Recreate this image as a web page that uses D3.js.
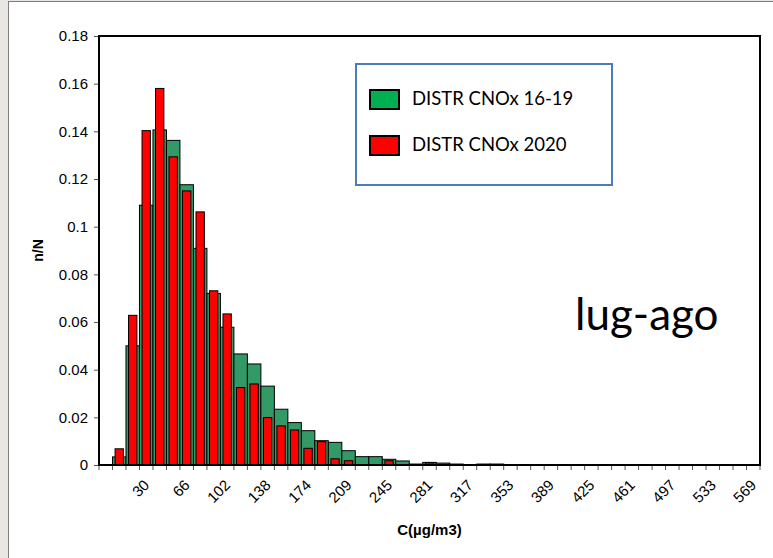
<!DOCTYPE html>
<html>
<head>
<meta charset="utf-8">
<script src="https://cdn.jsdelivr.net/npm/d3@7/dist/d3.min.js"></script>
<style>
  html, body { margin: 0; padding: 0; background: #e9e7e4; }
  svg { display: block; }
</style>
</head>
<body>
<svg id="chart" width="773" height="558"></svg>
<script>
// Distribuzione n/N delle concentrazioni CNOx, luglio-agosto:
// 2016-19 (verde) contro 2020 (rosso), classi da ~12 µg/m3.

const distr1619 = [
  0, 0.0034, 0.050, 0.109, 0.1406, 0.1362, 0.1176, 0.0909, 0.0720, 0.0578,
  0.0466, 0.0424, 0.0331, 0.0234, 0.0178, 0.0144, 0.0102, 0.0095, 0.0060, 0.0035,
  0.0035, 0.0024, 0.0017, 0.0004, 0.0011, 0.0008, 0.0004, 0.0002, 0.0004, 0.0004,
  0.0002, 0, 0, 0, 0, 0, 0, 0, 0, 0,
  0, 0, 0, 0, 0, 0, 0, 0, 0
];
const distr2020 = [
  0, 0.0068, 0.0628, 0.1403, 0.1580, 0.1293, 0.1150, 0.1062, 0.0731, 0.0634,
  0.0325, 0.0340, 0.0199, 0.0164, 0.0147, 0.0070, 0.0098, 0.0026, 0.0018, 0,
  0, 0.0018, 0, 0, 0.0009, 0, 0, 0, 0, 0,
  0, 0, 0, 0, 0, 0, 0, 0, 0, 0,
  0, 0, 0, 0, 0, 0, 0, 0, 0
];
// etichette mostrate una classe ogni tre (dalla quarta)
const etichetteX = ['30', '66', '102', '138', '174', '209', '245', '281', '317',
  '353', '389', '425', '461', '497', '533', '569'];
const passoEtichette = 3;
const ticksY = [0, 0.02, 0.04, 0.06, 0.08, 0.1, 0.12, 0.14, 0.16, 0.18];
const nomiSerie = ['DISTR CNOx 16-19', 'DISTR CNOx 2020'];
const periodo = 'lug-ago';

const VERDE = '#339966', ROSSO = '#ff0000', VERDE_LEG = '#00b050';

function drawIstogramma() {
  const svg = d3.select('#chart');
  const W = 773, H = 558;
  const P = { left: 99, top: 36, right: 760, bottom: 465 };

  // cornice della diapositiva
  svg.append('rect')
    .attr('x', 8.5).attr('y', 1.5).attr('width', W).attr('height', H)
    .attr('fill', '#fff').attr('stroke', '#7d7d7d').attr('stroke-width', 1);

  const x = d3.scaleBand().domain(d3.range(distr1619.length))
    .range([P.left, P.right]).padding(0);
  const y = d3.scaleLinear().domain([0, 0.18]).range([P.bottom, P.top]);
  const bw = x.bandwidth();

  // asse y
  const ay = svg.append('g').attr('transform', `translate(${P.left},0)`)
    .call(d3.axisLeft(y).tickValues(ticksY).tickSize(5).tickPadding(6)
      .tickFormat(d => String(+d.toFixed(2))));
  ay.select('.domain').remove();
  ay.selectAll('.tick line').attr('stroke', '#555');
  ay.selectAll('.tick text')
    .attr('font-family', '"Liberation Sans", Arial, sans-serif')
    .style('font-size', '15px').attr('fill', '#000');

  // tacche x sui confini di classe
  const bordi = d3.range(distr1619.length + 1);
  svg.append('g').selectAll('line').data(bordi).join('line')
    .attr('x1', i => P.left + i * x.step()).attr('x2', i => P.left + i * x.step())
    .attr('y1', P.bottom).attr('y2', P.bottom + 5)
    .attr('stroke', '#555').attr('stroke-width', 1);

  // barre: prima 2016-19 a tutta classe, poi 2020 più strette sopra
  svg.append('g').selectAll('rect').data(distr1619).join('rect')
    .attr('x', (d, i) => x(i)).attr('width', bw)
    .attr('y', d => y(d)).attr('height', d => y(0) - y(d))
    .attr('fill', VERDE).attr('stroke', '#000').attr('stroke-width', 1);

  const rw = bw * 0.62;
  svg.append('g').selectAll('rect').data(distr2020).join('rect')
    .attr('x', (d, i) => x(i) + (bw - rw) / 2).attr('width', rw)
    .attr('y', d => y(d)).attr('height', d => y(0) - y(d))
    .attr('fill', ROSSO).attr('stroke', '#000').attr('stroke-width', 1);

  // riquadro dell'area del grafico
  svg.append('rect')
    .attr('x', P.left).attr('y', P.top)
    .attr('width', P.right - P.left).attr('height', P.bottom - P.top)
    .attr('fill', 'none').attr('stroke', '#000').attr('stroke-width', 2);

  // etichette x ruotate
  svg.append('g').selectAll('text').data(etichetteX).join('text')
    .attr('transform', (d, k) => {
      const i = (k + 1) * passoEtichette;
      return `translate(${x(i) + bw / 2 + 4},${P.bottom + 21}) rotate(-45)`;
    })
    .attr('text-anchor', 'end')
    .attr('font-family', '"Liberation Sans", Arial, sans-serif')
    .style('font-size', '15px').attr('fill', '#000')
    .text(d => d);

  // titoli assi
  svg.append('text')
    .attr('x', (P.left + P.right) / 2).attr('y', 535).attr('text-anchor', 'middle')
    .attr('font-family', '"Liberation Sans", Arial, sans-serif').attr('font-weight', 700)
    .style('font-size', '15px').text('C(µg/m3)');
  svg.append('text')
    .attr('transform', `translate(43,${(P.top + P.bottom) / 2}) rotate(-90)`)
    .attr('text-anchor', 'middle')
    .attr('font-family', '"Liberation Sans", Arial, sans-serif').attr('font-weight', 700)
    .style('font-size', '14px').text('n/N');

  // legenda
  const leg = svg.append('g');
  leg.append('rect')
    .attr('x', 356).attr('y', 64).attr('width', 256).attr('height', 121)
    .attr('fill', '#fff').attr('stroke', '#4a7ebb').attr('stroke-width', 2);
  const voci = leg.selectAll('g.voce').data(nomiSerie).join('g')
    .attr('class', 'voce')
    .attr('transform', (d, i) => `translate(370,${90 + i * 46})`);
  voci.append('rect')
    .attr('width', 29).attr('height', 19)
    .attr('fill', (d, i) => i === 0 ? VERDE_LEG : ROSSO)
    .attr('stroke', '#000').attr('stroke-width', 2);
  voci.append('text')
    .attr('x', 42).attr('y', 15)
    .attr('font-family', 'Lato, "Open Sans", sans-serif')
    .style('font-size', '18.5px').attr('fill', '#000')
    .text(d => d);

  // periodo
  svg.append('text')
    .attr('x', 575).attr('y', 330)
    .attr('font-family', 'Lato, "Open Sans", sans-serif')
    .style('font-size', '44px').attr('fill', '#000')
    .text(periodo);
}

drawIstogramma();
</script>
</body>
</html>
